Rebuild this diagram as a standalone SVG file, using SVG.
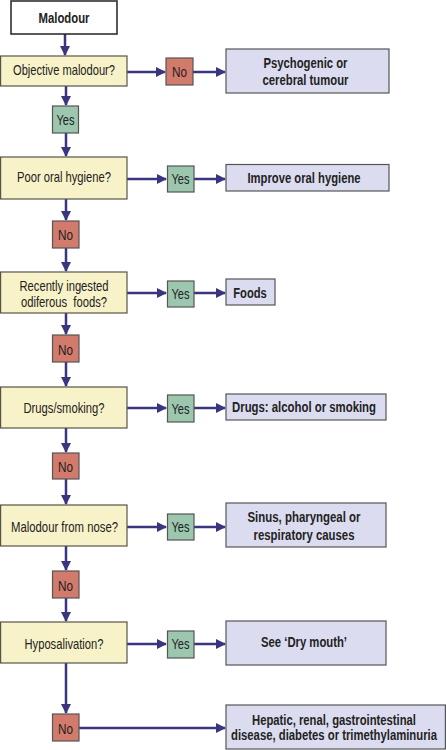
<svg xmlns="http://www.w3.org/2000/svg" width="446" height="750" viewBox="0 0 446 750">
<defs>
<marker id="ah" viewBox="0 0 10 10" refX="9" refY="5" markerWidth="4" markerHeight="4" markerUnits="strokeWidth" orient="auto">
<path d="M0,0 L10,5 L0,10 z" fill="#3b3580"/>
</marker>
<style>
.q{fill:#f8f2c8;stroke:#55554a;stroke-width:1.2}
.s{fill:#ffffff;stroke:#222;stroke-width:1.5}
.no{fill:#d27b6c;stroke:#555;stroke-width:1.2}
.yes{fill:#9cc6ad;stroke:#555;stroke-width:1.2}
.r{fill:#dcdcf0;stroke:#555;stroke-width:1.2}
text{font-family:"Liberation Sans",Arial,sans-serif;font-size:14.5px;fill:#222;text-anchor:middle}
.b{font-weight:bold}
.c line{stroke:#3b3580;stroke-width:2.5;marker-end:url(#ah)}
</style>
</defs>
<rect width="446" height="750" fill="#fff"/>
<g class="c" id="connectors">
<line x1="65" y1="34" x2="65" y2="55"/>
<line x1="127" y1="72" x2="165" y2="72"/>
<line x1="193" y1="72" x2="225" y2="72"/>
<line x1="66" y1="86" x2="66" y2="105"/>
<line x1="66" y1="133" x2="66" y2="156"/>
<line x1="127" y1="179" x2="166" y2="179"/>
<line x1="194" y1="179" x2="225" y2="179"/>
<line x1="66" y1="199" x2="66" y2="220"/>
<line x1="66" y1="248" x2="66" y2="271"/>
<line x1="127" y1="293" x2="166" y2="293"/>
<line x1="194" y1="293" x2="225" y2="293"/>
<line x1="66" y1="313" x2="66" y2="334"/>
<line x1="66" y1="362" x2="66" y2="386"/>
<line x1="127" y1="408" x2="166" y2="408"/>
<line x1="194" y1="408" x2="225" y2="408"/>
<line x1="66" y1="428" x2="66" y2="452"/>
<line x1="66" y1="479" x2="66" y2="504"/>
<line x1="127" y1="527" x2="166" y2="527"/>
<line x1="194" y1="527" x2="225" y2="527"/>
<line x1="66" y1="546" x2="66" y2="570"/>
<line x1="66" y1="598" x2="66" y2="621"/>
<line x1="127" y1="644" x2="166" y2="644"/>
<line x1="194" y1="644" x2="225" y2="644"/>
<line x1="66" y1="663" x2="66" y2="713"/>
<line x1="79" y1="728" x2="225" y2="728"/>
</g>
<g id="malodour"><rect class="s" x="11" y="1" width="106" height="33"/><text class="b" x="64" y="22.5" textLength="51" lengthAdjust="spacingAndGlyphs">Malodour</text></g>
<g id="q1"><rect class="q" x="0.6" y="56" width="126.4" height="30"/><text x="64" y="74.5" textLength="102" lengthAdjust="spacingAndGlyphs">Objective malodour?</text></g>
<g id="no1"><rect class="no" x="166" y="58" width="27" height="27"/><text x="179.5" y="76.5" textLength="15" lengthAdjust="spacingAndGlyphs">No</text></g>
<g id="r1"><rect class="r" x="226" y="49" width="163" height="44"/><text class="b" x="305.5" y="67.5" textLength="84" lengthAdjust="spacingAndGlyphs">Psychogenic or</text><text class="b" x="305.5" y="84.5" textLength="86" lengthAdjust="spacingAndGlyphs">cerebral tumour</text></g>
<g id="yes1"><rect class="yes" x="52.5" y="106" width="26" height="27"/><text x="65.5" y="124.5" textLength="18" lengthAdjust="spacingAndGlyphs">Yes</text></g>
<g id="q2"><rect class="q" x="0.6" y="157" width="126.4" height="42"/><text x="64" y="181.5" textLength="94" lengthAdjust="spacingAndGlyphs">Poor oral hygiene?</text></g>
<g id="yes2"><rect class="yes" x="167.5" y="166" width="26.5" height="26"/><text x="180.5" y="183.5" textLength="18" lengthAdjust="spacingAndGlyphs">Yes</text></g>
<g id="r2"><rect class="r" x="226" y="164.5" width="163" height="26.5"/><text class="b" x="304" y="183" textLength="113" lengthAdjust="spacingAndGlyphs">Improve oral hygiene</text></g>
<g id="no2"><rect class="no" x="52.5" y="221" width="26.5" height="27"/><text x="65.5" y="239.5" textLength="15" lengthAdjust="spacingAndGlyphs">No</text></g>
<g id="q3"><rect class="q" x="0.6" y="272" width="126.4" height="41"/><text x="64" y="290.5" textLength="89" lengthAdjust="spacingAndGlyphs">Recently ingested</text><text x="64" y="306.5" xml:space="preserve" textLength="86" lengthAdjust="spacingAndGlyphs">odiferous  foods?</text></g>
<g id="yes3"><rect class="yes" x="167.5" y="281" width="26.5" height="26"/><text x="180.5" y="298.5" textLength="18" lengthAdjust="spacingAndGlyphs">Yes</text></g>
<g id="r3"><rect class="r" x="226" y="279" width="49" height="26"/><text class="b" x="250" y="298" textLength="33.5" lengthAdjust="spacingAndGlyphs">Foods</text></g>
<g id="no3"><rect class="no" x="52.5" y="335" width="26.5" height="27"/><text x="65.5" y="354.5" textLength="15" lengthAdjust="spacingAndGlyphs">No</text></g>
<g id="q4"><rect class="q" x="0.6" y="387" width="126.4" height="41"/><text x="64" y="413" textLength="81" lengthAdjust="spacingAndGlyphs">Drugs/smoking?</text></g>
<g id="yes4"><rect class="yes" x="167.5" y="395" width="26.5" height="27"/><text x="180.5" y="413.5" textLength="18" lengthAdjust="spacingAndGlyphs">Yes</text></g>
<g id="r4"><rect class="r" x="226" y="394" width="160" height="26"/><text class="b" x="304" y="412" textLength="144" lengthAdjust="spacingAndGlyphs">Drugs: alcohol or smoking</text></g>
<g id="no4"><rect class="no" x="52.5" y="453" width="26.5" height="26"/><text x="65.5" y="472" textLength="15" lengthAdjust="spacingAndGlyphs">No</text></g>
<g id="q5"><rect class="q" x="0.6" y="505" width="126.4" height="41"/><text x="64.5" y="531.5" textLength="107" lengthAdjust="spacingAndGlyphs">Malodour from nose?</text></g>
<g id="yes5"><rect class="yes" x="167.5" y="514" width="26.5" height="26"/><text x="180.5" y="532" textLength="18" lengthAdjust="spacingAndGlyphs">Yes</text></g>
<g id="r5"><rect class="r" x="226" y="503" width="160" height="44"/><text class="b" x="304" y="522" textLength="113" lengthAdjust="spacingAndGlyphs">Sinus, pharyngeal or</text><text class="b" x="304" y="539.5" textLength="101" lengthAdjust="spacingAndGlyphs">respiratory causes</text></g>
<g id="no5"><rect class="no" x="52.5" y="571" width="26.5" height="27"/><text x="65.5" y="590.5" textLength="15" lengthAdjust="spacingAndGlyphs">No</text></g>
<g id="q6"><rect class="q" x="0.6" y="622" width="126.4" height="41"/><text x="64" y="648.5" textLength="79" lengthAdjust="spacingAndGlyphs">Hyposalivation?</text></g>
<g id="yes6"><rect class="yes" x="167.5" y="631" width="26.5" height="27"/><text x="180.5" y="648.5" textLength="18" lengthAdjust="spacingAndGlyphs">Yes</text></g>
<g id="r6"><rect class="r" x="226" y="621" width="160" height="44"/><text class="b" x="304" y="647" textLength="86" lengthAdjust="spacingAndGlyphs">See ‘Dry mouth’</text></g>
<g id="no6"><rect class="no" x="52.5" y="714" width="26.5" height="27"/><text x="65.5" y="733.5" textLength="15" lengthAdjust="spacingAndGlyphs">No</text></g>
<g id="r7"><rect class="r" x="226" y="705" width="219.4" height="44"/><text class="b" x="334" y="724.5" textLength="164" lengthAdjust="spacingAndGlyphs">Hepatic, renal, gastrointestinal</text><text class="b" x="334" y="740" textLength="206" lengthAdjust="spacingAndGlyphs">disease, diabetes or trimethylaminuria</text></g>
</svg>
